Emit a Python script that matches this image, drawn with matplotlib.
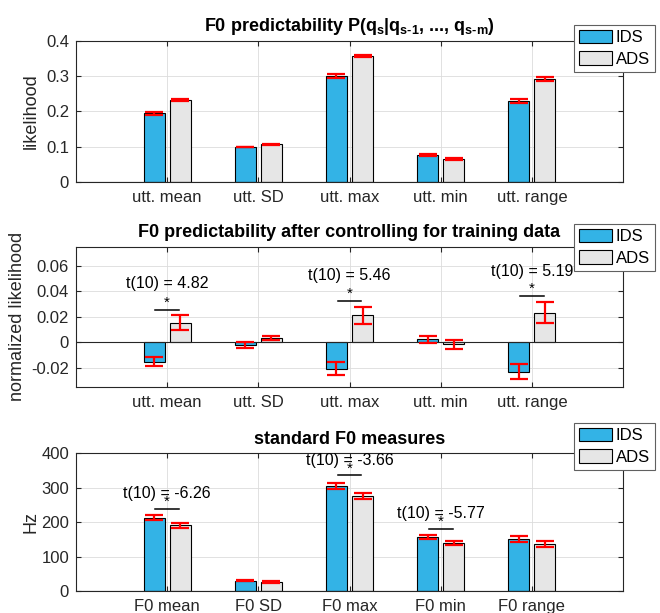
import matplotlib
matplotlib.use("Agg")
import matplotlib.pyplot as plt
import matplotlib.transforms as mtransforms
import numpy as np

plt.rcParams['font.family'] = ['Liberation Sans', 'DejaVu Sans']
plt.rcParams['mathtext.fontset'] = 'custom'
plt.rcParams['mathtext.rm'] = 'Liberation Sans'
plt.rcParams['mathtext.bf'] = 'Liberation Sans:bold'

# ---- data ----
groups = ['IDS', 'ADS']
cats_pred = ['utt. mean', 'utt. SD', 'utt. max', 'utt. min', 'utt. range']
cats_hz = ['F0 mean', 'F0 SD', 'F0 max', 'F0 min', 'F0 range']

lik_ids = [0.194, 0.099, 0.301, 0.075, 0.229]
lik_ads = [0.232, 0.106, 0.357, 0.065, 0.293]
lik_ids_err = [0.004, 0.001, 0.0055, 0.003, 0.0047]
lik_ads_err = [0.003, 0.001, 0.0035, 0.003, 0.0057]

norm_ids = [-0.0153, -0.0026, -0.0208, 0.0021, -0.0232]
norm_ads = [0.0153, 0.0029, 0.0210, -0.0018, 0.0232]
norm_ids_err = [0.0037, 0.0024, 0.0053, 0.0029, 0.0061]
norm_ads_err = [0.0060, 0.0016, 0.0068, 0.0034, 0.0084]

hz_ids = [213, 30, 305, 157, 151]
hz_ads = [191, 26, 276, 139, 137]
hz_ids_err = [7, 2, 10, 6, 8]
hz_ads_err = [7, 2, 9, 5, 8]

norm_sig_idx = [0, 2, 4]
norm_sig_txt = ['t(10) = 4.82', 't(10) = 5.46', 't(10) = 5.19']
norm_sig_line = [0.0255, 0.0324, 0.0366]
norm_sig_text_y = [0.0458, 0.052, 0.0555]

hz_sig_idx = [0, 2, 3]
hz_sig_txt = ['t(10) = -6.26', 't(10) = -3.66', 't(10) = -5.77']
hz_sig_line = [238, 336, 180]
hz_sig_text_y = [283, 378, 225]

c_ids = '#33B3E6'
c_ads = '#E6E6E6'
dark = '#262626'

fig = plt.figure(figsize=(6.6, 6.13), dpi=100)


def panel(rect, cats, ids, ads, ids_err, ads_err, ylim, yticks, yticklabels,
          ylabel, ylabel_x, title, legend_top):
    ax = fig.add_axes(rect)
    x = np.arange(1, len(cats) + 1)
    off, w = 0.143, 0.23
    b1 = ax.bar(x - off, ids, w, color=c_ids, edgecolor='black', linewidth=0.8,
                label=groups[0], zorder=2)
    b2 = ax.bar(x + off, ads, w, color=c_ads, edgecolor='black', linewidth=0.8,
                label=groups[1], zorder=2)
    for xs, v, e in [(x - off, ids, ids_err), (x + off, ads, ads_err)]:
        ax.errorbar(xs, v, yerr=e, fmt='none', ecolor='red', elinewidth=1.6,
                    capsize=6.3, capthick=1.6, zorder=3)
    ax.axhline(0, color=dark, lw=0.8, zorder=2.5)
    ax.set_xlim(0, 6)
    ax.set_ylim(*ylim)
    ax.set_xticks(x)
    ax.set_xticklabels(cats)
    ax.set_yticks(yticks)
    ax.set_yticklabels(yticklabels)
    ax.grid(True, color='#dcdcdc', lw=0.6, zorder=0)
    ax.set_axisbelow(True)
    ax.tick_params(direction='in', length=3.5, width=0.8, top=True, right=True,
                   labelsize=12, colors=dark, pad=5)
    ax.tick_params(axis='x', pad=6)
    for s in ax.spines.values():
        s.set_color(dark)
        s.set_linewidth(0.8)
    ax.set_ylabel(ylabel, fontsize=13, color=dark)
    ax.yaxis.set_label_coords(ylabel_x, 0.5)
    ax.set_title(title, fontsize=13, fontweight='bold', color='black', pad=7)
    leg = fig.legend(handles=[b1, b2], loc='upper left',
                     bbox_to_anchor=(574 / 660, 1 - legend_top / 613),
                     borderaxespad=0, fontsize=12, handlelength=2.0,
                     handleheight=0.85, handletextpad=0.2, labelspacing=0.35,
                     borderpad=0.3, fancybox=False, framealpha=1)
    leg.get_frame().set_edgecolor('#606060')
    leg.get_frame().set_linewidth(0.8)
    return ax, x


def sig(ax, x, idx, labels, line_y, text_y):
    star_tr = mtransforms.offset_copy(ax.transData, fig=fig, y=5, units='points')
    for i, lab, ly, ty in zip(idx, labels, line_y, text_y):
        ax.plot([x[i] - 0.13, x[i] + 0.13], [ly, ly], color='black', lw=1.1, zorder=4)
        ax.text(x[i], ly, '*', transform=star_tr, ha='center', va='center',
                fontsize=11, color='black', zorder=4)
        ax.text(x[i], ty, lab, ha='center', va='center', fontsize=11.5,
                color='black', zorder=4)


panel([0.1152, 0.7036, 0.8288, 0.2295], cats_pred, lik_ids, lik_ads,
      lik_ids_err, lik_ads_err, (0, 0.4), [0, 0.1, 0.2, 0.3, 0.4],
      ['0', '0.1', '0.2', '0.3', '0.4'], 'likelihood', -0.066,
      'F0 predictability P(q$_\\mathbf{s}$|q$_\\mathbf{s\u20101}$, ..., q$_\\mathbf{s\u2010m}$)', 25)

ax2, x2 = panel([0.1152, 0.3692, 0.8288, 0.2284], cats_pred, norm_ids, norm_ads,
                norm_ids_err, norm_ads_err, (-0.035, 0.075),
                [-0.02, 0, 0.02, 0.04, 0.06], ['-0.02', '0', '0.02', '0.04', '0.06'],
                'normalized likelihood', -0.092,
                'F0 predictability after controlling for training data', 224)
sig(ax2, x2, norm_sig_idx, norm_sig_txt, norm_sig_line, norm_sig_text_y)

ax3, x3 = panel([0.1152, 0.0359, 0.8288, 0.2246], cats_hz, hz_ids, hz_ads,
                hz_ids_err, hz_ads_err, (0, 400), [0, 100, 200, 300, 400],
                ['0', '100', '200', '300', '400'], 'Hz', -0.066,
                'standard F0 measures', 423)
sig(ax3, x3, hz_sig_idx, hz_sig_txt, hz_sig_line, hz_sig_text_y)

fig.savefig('out.png', dpi=100)
